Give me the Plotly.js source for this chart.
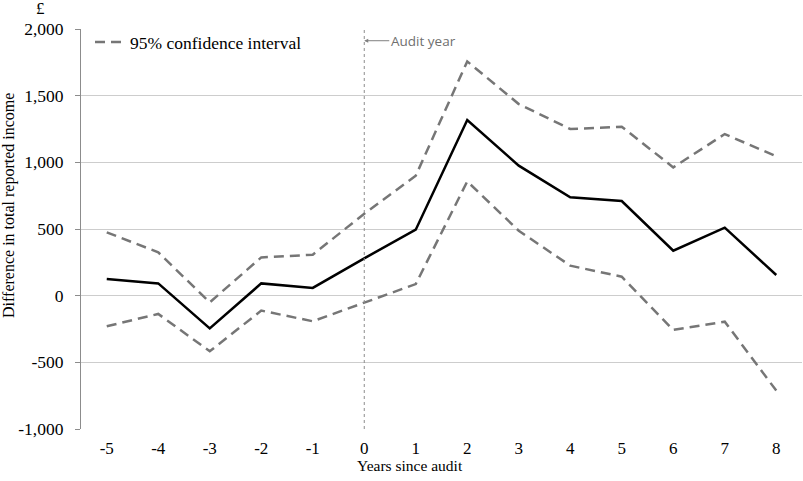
<!DOCTYPE html>
<html>
<head>
<meta charset="utf-8">
<script src="https://cdn.plot.ly/plotly-3.0.1.min.js"></script>
<style>html,body{margin:0;padding:0;background:#fff}#chart{width:803px;height:481px}</style>
</head>
<body>
<div id="chart"></div>
<script>
const years = [-5, -4, -3, -2, -1, 0, 1, 2, 3, 4, 5, 6, 7, 8];
const estimate = [125, 92, -245, 92, 58, 280, 495, 1317, 975, 738, 710, 337, 510, 155];
const upperCI = [475, 325, -50, 287, 307, 615, 900, 1757, 1437, 1250, 1267, 962, 1212, 1045];
const lowerCI = [-230, -137, -417, -112, -192, -50, 87, 857, 487, 225, 142, -257, -195, -712];
const yTickVals = [-1000, -500, 0, 500, 1000, 1500, 2000];
const yTickText = ['-1,000', '-500', '0', '500', '1,000', '1,500', '2,000'];
const xTickText = ['-5', '-4', '-3', '-2', '-1', '0', '1', '2', '3', '4', '5', '6', '7', '8'];
const auditYear = 0;

const serif = 'Liberation Serif, Times New Roman, serif';
const dashStyle = '10px,6px';
const ciColor = '#767676';

const traces = [
  {x: years, y: upperCI, mode: 'lines', name: '95% confidence interval', showlegend: true,
   line: {color: ciColor, width: 2.5, dash: dashStyle}, hoverinfo: 'skip'},
  {x: years, y: lowerCI, mode: 'lines', name: 'lower', showlegend: false,
   line: {color: ciColor, width: 2.5, dash: dashStyle}, hoverinfo: 'skip'},
  {x: years, y: estimate, mode: 'lines', name: 'Estimate', showlegend: false,
   line: {color: '#000000', width: 2.5}, hoverinfo: 'skip'}
];

const boundaries = [];
for (let i = 0; i <= years.length; i++) boundaries.push(years[0] - 0.5 + i);

const layout = {
  width: 803, height: 481,
  margin: {l: 81, r: 1, t: 29, b: 52},
  paper_bgcolor: '#ffffff', plot_bgcolor: '#ffffff',
  font: {family: serif, size: 17, color: '#000'},
  showlegend: true,
  legend: {x: 0.0125, y: 1.012, xanchor: 'left', yanchor: 'top', bgcolor: 'rgba(0,0,0,0)',
           font: {family: serif, size: 17.5, color: '#000'}, itemwidth: 30, tracegroupgap: 0},
  xaxis: {
    range: [years[0] - 0.5, years[years.length - 1] + 0.5],
    tickmode: 'array', tickvals: years, ticktext: xTickText,
    showgrid: false, zeroline: false, showline: false, ticks: '',
    ticklabelstandoff: 7,
    tickfont: {family: serif, size: 17}, fixedrange: true
  },
  xaxis2: {
    overlaying: 'x', anchor: 'free', position: (0 - yTickVals[0]) / (yTickVals[yTickVals.length - 1] - yTickVals[0]),
    range: [years[0] - 0.5, years[years.length - 1] + 0.5],
    tickmode: 'array', tickvals: boundaries, showticklabels: false,
    ticks: 'outside', ticklen: 5, tickcolor: '#8c8c8c', tickwidth: 1,
    showline: true, linecolor: '#8c8c8c', linewidth: 1, showgrid: false, zeroline: false
  },
  yaxis: {
    range: [yTickVals[0], yTickVals[yTickVals.length - 1]],
    tickmode: 'array', tickvals: yTickVals, ticktext: yTickText,
    showgrid: true, gridcolor: '#cdcdcd', gridwidth: 1,
    zeroline: false, showline: true, linecolor: '#8c8c8c', linewidth: 1,
    ticks: 'outside', ticklen: 5, tickcolor: '#8c8c8c',
    ticklabelstandoff: 8,
    tickfont: {family: serif, size: 17.5}, fixedrange: true
  },
  shapes: [
    {type: 'line', xref: 'x', yref: 'paper', x0: auditYear, x1: auditYear, y0: 0, y1: 1,
     line: {color: '#8c8c8c', width: 1, dash: 'dot'}}
  ],
  annotations: [
    {xref: 'x', yref: 'y', x: auditYear, y: 1912, text: 'Audit year', showarrow: true,
     ax: 25, ay: 0, xanchor: 'left', yanchor: 'middle', arrowhead: 2, arrowsize: 0.8, arrowwidth: 1,
     arrowcolor: '#7f7f7f', font: {family: 'Open Sans, Liberation Sans, sans-serif', size: 13.5, color: '#6f6f6f'}},
    {xref: 'paper', yref: 'paper', x: -0.0555, y: 1.0525, xanchor: 'center', yanchor: 'middle',
     text: '£', showarrow: false, font: {family: serif, size: 17, color: '#000'}},
    {xref: 'paper', yref: 'paper', x: -0.0999, y: 0.56, xanchor: 'center', yanchor: 'middle',
     textangle: -90, text: 'Difference in total reported income', showarrow: false,
     font: {family: serif, size: 16, color: '#000'}},
    {xref: 'paper', yref: 'paper', x: 0.456, y: -0.09, xanchor: 'center', yanchor: 'middle',
     text: 'Years since audit', showarrow: false, font: {family: serif, size: 15.5, color: '#000'}}
  ]
};

Plotly.newPlot('chart', traces, layout, {staticPlot: true, displayModeBar: false});
</script>
</body>
</html>
